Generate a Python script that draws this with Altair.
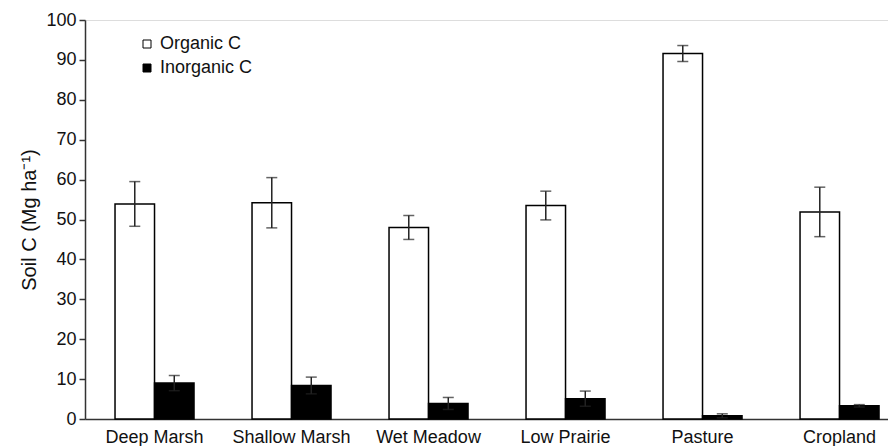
import altair as alt
import pandas as pd

categories = ["Deep Marsh", "Shallow Marsh", "Wet Meadow", "Low Prairie", "Pasture", "Cropland"]
series = ["Organic C", "Inorganic C"]
organic = [53.9, 54.2, 48.0, 53.5, 91.6, 51.9]
organic_err = [5.6, 6.3, 3.0, 3.6, 2.0, 6.2]
inorganic = [9.0, 8.4, 3.9, 5.1, 0.8, 3.3]
inorganic_err = [1.9, 2.1, 1.5, 1.9, 0.5, 0.3]
y_ticks = list(range(0, 101, 10))

rows = []
for i, c in enumerate(categories):
    rows.append({"cat": c, "type": series[0], "v": organic[i],
                 "lo": organic[i] - organic_err[i], "hi": organic[i] + organic_err[i]})
    rows.append({"cat": c, "type": series[1], "v": inorganic[i],
                 "lo": inorganic[i] - inorganic_err[i], "hi": inorganic[i] + inorganic_err[i]})
df = pd.DataFrame(rows)

FONT = "Liberation Sans"
YTITLE = "Soil C (Mg ha\u207b\u00b9)"

x = alt.X("cat:N", sort=categories, title=None,
          scale=alt.Scale(paddingInner=0.4234, paddingOuter=0.1423, align=0.77),
          axis=alt.Axis(labelAngle=0, ticks=False, tickSize=0, labelPadding=9,
                        labelFontSize=18, labelFont=FONT, labelColor="#111",
                        domainColor="#333", domainWidth=1.5))
xo = alt.XOffset("type:N", sort=series,
                 scale=alt.Scale(domain=series, paddingInner=0, paddingOuter=0))

yscale = alt.Scale(domain=[0, 100], nice=False, zero=True)
yaxis = alt.Axis(values=y_ticks, grid=False, tickSize=6,
                 tickColor="#333", tickWidth=1.5, domainColor="#333",
                 domainWidth=1.5, labelOverlap=False,
                 labelPadding=3, labelFontSize=18, labelFont=FONT,
                 labelColor="#111", titleFontSize=20, titleFont=FONT,
                 titleFontWeight="normal", titleColor="#111", titlePadding=6)

base = alt.Chart(df)

bars = base.mark_bar(stroke="black", strokeWidth=1.5).encode(
    x=x, xOffset=xo,
    y=alt.Y("v:Q", scale=yscale, title=YTITLE, axis=yaxis),
    fill=alt.Fill("type:N", sort=series,
                  scale=alt.Scale(domain=series, range=["white", "black"]),
                  legend=alt.Legend(title=None, orient="none", legendX=53, legendY=15,
                                    symbolType="square", symbolSize=64,
                                    symbolStrokeColor="black", symbolStrokeWidth=1,
                                    labelFontSize=18, labelFont=FONT, labelColor="#111",
                                    labelOffset=4, rowPadding=6, padding=0)),
)

rules = base.mark_rule(color="#222", strokeWidth=1.5).encode(
    x=x, xOffset=xo, y=alt.Y("lo:Q", scale=yscale, title=YTITLE, axis=yaxis), y2="hi:Q")

caps_hi = base.mark_tick(color="#222", thickness=1.5, size=11).encode(
    x=x, xOffset=xo, y=alt.Y("hi:Q", scale=yscale, title=YTITLE, axis=yaxis))
caps_lo = base.mark_tick(color="#222", thickness=1.5, size=11).encode(
    x=x, xOffset=xo, y=alt.Y("lo:Q", scale=yscale, title=YTITLE, axis=yaxis))

chart = alt.layer(bars, rules, caps_hi, caps_lo).properties(
    width=803, height=399,
    autosize=alt.AutoSizeParams(type="none"),
    padding={"left": 77, "top": 12, "right": 0, "bottom": 27},
).configure_view(stroke=None).configure(background="white")

chart.save("out.html", embed_options={"renderer": "svg", "actions": False})
